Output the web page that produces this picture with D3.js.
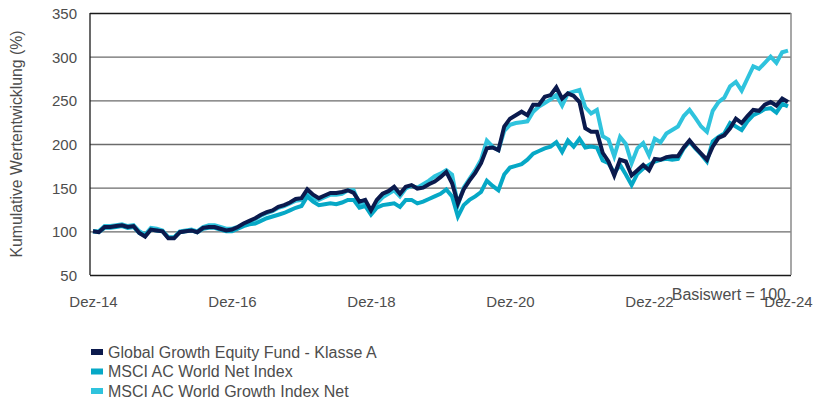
<!DOCTYPE html>
<html>
<head>
<meta charset="utf-8">
<script src="https://cdn.jsdelivr.net/npm/d3@7"></script>
<style>
  html, body { margin: 0; padding: 0; background: #fff; }
  svg { display: block; }
  text { font-family: "Liberation Sans", Arial, sans-serif; fill: #4d4d4d; }
</style>
</head>
<body>
<svg id="chart" width="828" height="403"></svg>
<script>
// Monthly index values, Dez-14 .. Dez-24 (121 points), base = 100
const fund = [
  100, 99, 105, 105, 106, 107, 105, 106, 98, 94, 102, 101,
  100, 92, 92, 99, 100, 101, 99, 104, 105, 105, 103, 101,
  102, 105, 109, 112, 115, 119, 122, 124, 128, 130, 133, 137,
  138, 148, 142, 138, 141, 144, 144, 145, 147, 144, 134, 136,
  124, 136, 143, 146, 151, 143, 151, 153, 149, 150, 154, 157,
  162, 168, 155, 132, 148, 158, 167, 178, 195, 196, 193, 220,
  229, 233, 237, 233, 245, 245, 254, 256, 265, 252, 258, 255,
  248, 218, 214, 214, 190, 180, 164, 182, 180, 164, 170, 176,
  170, 183, 182, 185, 186, 186, 196, 204, 196, 189, 182, 197,
  207, 210, 218, 229, 224, 232, 239, 238, 245, 248, 244, 252,
  248
];
const acwi = [
  100, 99, 104, 104, 105, 106, 104, 105, 98, 95, 102, 101,
  100, 93, 93, 99, 100, 101, 99, 103, 104, 104, 102, 100,
  100, 103, 106, 108, 109, 112, 115, 117, 119, 121, 124, 127,
  129, 140, 134, 130, 131, 132, 131, 133, 136, 136, 127, 129,
  119, 127, 130, 131, 132, 128, 136, 136, 132, 134, 137, 140,
  143, 148, 140, 117, 130, 136, 140, 145, 158, 152, 147, 165,
  173, 175, 177, 182, 189, 192, 195, 197, 202, 191, 204, 197,
  206, 196, 197, 196, 181, 178, 167, 176, 165, 153, 166, 172,
  176, 180, 182, 183, 182, 183, 195, 203, 195, 188, 180, 203,
  208, 212, 224, 220, 216, 226, 233, 236, 240, 241, 236, 246,
  243
];
const growth = [
  100, 100, 106, 106, 107, 108, 106, 107, 100, 96, 104, 103,
  101, 93, 93, 100, 101, 102, 100, 105, 107, 107, 105, 103,
  103, 105, 108, 111, 114, 118, 121, 123, 127, 129, 132, 135,
  136, 144, 138, 136, 139, 142, 142, 143, 147, 147, 131, 133,
  122, 132, 139, 143, 147, 140, 149, 152, 150, 154, 158, 163,
  166, 170, 165, 130, 150, 160, 170, 182, 204, 197, 193, 215,
  222, 224, 225, 226, 237, 243, 247, 251, 256, 244, 258, 260,
  262, 242, 235, 239, 209, 205, 186, 208, 200, 178, 195, 201,
  187, 206, 202, 212, 216, 220, 232, 239, 230, 220, 214, 238,
  248, 253, 266, 271, 261, 275, 289, 286, 293, 300, 293, 305,
  307
];
const seriesNames = [
  "Global Growth Equity Fund - Klasse A",
  "MSCI AC World Net Index",
  "MSCI AC World Growth Index Net"
];
const seriesColors = ["#0b1a4d", "#06a8c6", "#2fc3dd"];
const xTickLabels = ["Dez-14", "Dez-16", "Dez-18", "Dez-20", "Dez-22", "Dez-24"];
const xTickIndex = [0, 24, 48, 72, 96, 120];
const yTicks = [50, 100, 150, 200, 250, 300, 350];
const yTitle = "Kumulative Wertentwicklung (%)";
const baseNote = "Basiswert = 100";

const svg = d3.select("#chart");
const frame = { left: 90, right: 791, top: 13, bottom: 275 };

const x = d3.scaleLinear().domain([0, fund.length - 1]).range([93, 788]);
const y = d3.scaleLinear().domain([50, 350]).range([frame.bottom, frame.top]);

// Grid lines
const yAxis = d3.axisLeft(y).tickValues(yTicks)
  .tickSize(-(frame.right - frame.left)).tickPadding(13).tickFormat(d3.format("d"));
const gy = svg.append("g").attr("transform", `translate(${frame.left},0)`).call(yAxis);
gy.select(".domain").remove();
gy.selectAll(".tick line")
  .attr("stroke", d => (d === 50 || d === 350) ? "#1a1a1a" : "#6b6b6b")
  .attr("stroke-width", 1.3);
gy.selectAll(".tick text")
  .style("font-size", "15px").attr("fill", "#4d4d4d").attr("dy", "0.36em");

// Frame sides
svg.append("line").attr("x1", frame.left).attr("x2", frame.left)
  .attr("y1", frame.top).attr("y2", frame.bottom)
  .attr("stroke", "#1a1a1a").attr("stroke-width", 1.3);
svg.append("line").attr("x1", frame.right).attr("x2", frame.right)
  .attr("y1", frame.top).attr("y2", frame.bottom)
  .attr("stroke", "#8a8a8a").attr("stroke-width", 1.5);

// X axis labels
const xAxis = d3.axisBottom(x).tickValues(xTickIndex)
  .tickSize(0).tickPadding(0)
  .tickFormat((d, i) => xTickLabels[i]);
const gx = svg.append("g").attr("transform", `translate(0,${frame.bottom + 27})`).call(xAxis);
gx.select(".domain").remove();
gx.selectAll(".tick text").style("font-size", "15px").attr("fill", "#4d4d4d").attr("dy", "0.36em");

// Y title
svg.append("text")
  .attr("transform", `translate(22,${(frame.top + frame.bottom) / 2}) rotate(-90)`)
  .attr("text-anchor", "middle")
  .style("font-size", "15.8px")
  .text(yTitle);

// Base note
svg.append("text")
  .attr("x", 786).attr("y", 299.5)
  .attr("text-anchor", "end")
  .style("font-size", "16px")
  .text(baseNote);

// Lines
const data = [growth, acwi, fund];
const colorsDraw = [seriesColors[2], seriesColors[1], seriesColors[0]];
const line = d3.line().x((d, i) => x(i)).y(d => y(d));
svg.append("g").selectAll("path").data(data).join("path")
  .attr("d", line)
  .attr("fill", "none")
  .attr("stroke", (d, i) => colorsDraw[i])
  .attr("stroke-width", 4)
  .attr("stroke-linejoin", "miter");

// Legend
const legend = svg.append("g").attr("transform", "translate(91,352)");
const items = legend.selectAll("g").data(seriesNames).join("g")
  .attr("transform", (d, i) => `translate(0,${i * 19.5})`);
items.append("rect").attr("x", 0).attr("y", -3).attr("width", 12).attr("height", 6)
  .attr("fill", (d, i) => seriesColors[i]);
items.append("text").attr("x", 17).attr("y", 0).attr("dy", "0.36em")
  .style("font-size", "16px").text(d => d);
</script>
</body>
</html>
